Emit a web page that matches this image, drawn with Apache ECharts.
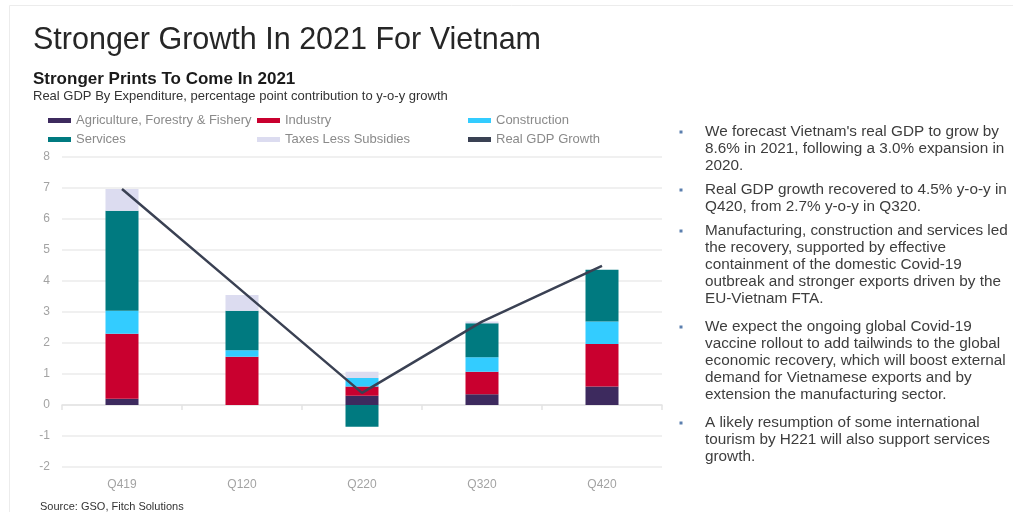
<!DOCTYPE html>
<html>
<head>
<meta charset="utf-8">
<script src="https://cdn.jsdelivr.net/npm/echarts@6/dist/echarts.min.js"></script>
<style>
html,body{margin:0;padding:0;background:#fff;}
#chart{width:1013px;height:512px;}
</style>
</head>
<body>
<div id="chart"></div>
<script>
const categories = ['Q419', 'Q120', 'Q220', 'Q320', 'Q420'];
const agriculture = [0.2, 0.0, 0.3, 0.35, 0.6];
const industry = [2.1, 1.56, 0.3, 0.72, 1.37];
const construction = [0.74, 0.21, 0.27, 0.47, 0.72];
const services = [3.23, 1.27, -0.7, 1.1, 1.67];
const taxes = [0.7, 0.51, 0.2, 0.05, 0.0];
const gdpGrowth = [6.97, 3.68, 0.39, 2.69, 4.49];
const yTicks = { min: -2, max: 8, interval: 1 };

const FONT = "'Liberation Sans', Arial, sans-serif";
const axisGray = '#a3a3a3';

const paragraphs = [
  { y: 132, text: "We forecast Vietnam's real GDP to grow by\n8.6% in 2021, following a 3.0% expansion in\n2020." },
  { y: 190, text: "Real GDP growth recovered to 4.5% y-o-y in\nQ420, from 2.7% y-o-y in Q320." },
  { y: 231, text: "Manufacturing, construction and services led\nthe recovery, supported by effective\ncontainment of the domestic Covid-19\noutbreak and stronger exports driven by the\nEU-Vietnam FTA." },
  { y: 327, text: "We expect the ongoing global Covid-19\nvaccine rollout to add tailwinds to the global\neconomic recovery, which will boost external\ndemand for Vietnamese exports and by\nextension the manufacturing sector." },
  { y: 423, text: "A likely resumption of some international\ntourism by H221 will also support services\ngrowth." }
];

const graphics = [
  { type: 'rect', shape: { x: 9.5, y: 5.5, width: 1010, height: 520 }, style: { fill: 'none', stroke: '#ececec', lineWidth: 1 }, silent: true },
  { type: 'text', style: { text: 'Stronger Growth In 2021 For Vietnam', x: 33, y: 41, font: '30.5px ' + FONT, fill: '#262626', textVerticalAlign: 'middle' } },
  { type: 'text', style: { text: 'Stronger Prints To Come In 2021', x: 33, y: 79, font: 'bold 17px ' + FONT, fill: '#1a1a1a', textVerticalAlign: 'middle' } },
  { type: 'text', style: { text: 'Real GDP By Expenditure, percentage point contribution to y-o-y growth', x: 33, y: 96, font: '13px ' + FONT, fill: '#333', textVerticalAlign: 'middle' } },
  { type: 'text', style: { text: 'Source: GSO, Fitch Solutions', x: 40, y: 507, font: '11px ' + FONT, fill: '#333', textVerticalAlign: 'middle' } }
];
paragraphs.forEach(p => {
  graphics.push({ type: 'rect', shape: { x: 679.5, y: p.y - 1.5, width: 3, height: 3 }, style: { fill: '#5b7fae' } });
  graphics.push({ type: 'text', style: { text: p.text, x: 705, y: p.y - 8.5, font: '15.3px ' + FONT, fill: '#3d3d3d', lineHeight: 17, textVerticalAlign: 'top' } });
});

const legendCommon = {
  orient: 'vertical', top: 114, itemGap: 6, itemWidth: 23, itemHeight: 5, icon: 'rect',
  textStyle: { color: '#8a8a8a', fontSize: 13, fontFamily: FONT }, padding: 0
};

const chart = echarts.init(document.getElementById('chart'), null, { renderer: 'canvas' });
const barBase = { type: 'bar', stack: 'total', barWidth: 33, xAxisIndex: 0 };
chart.setOption({
  animation: false,
  backgroundColor: '#fff',
  graphic: graphics,
  legend: [
    Object.assign({ left: 48, data: ['Agriculture, Forestry & Fishery', 'Services'] }, legendCommon),
    Object.assign({ left: 257, data: ['Industry', 'Taxes Less Subsidies'] }, legendCommon),
    Object.assign({ left: 468, data: ['Construction', 'Real GDP Growth'] }, legendCommon)
  ],
  grid: { left: 62, right: 351, top: 157, bottom: 45 },
  xAxis: [
    { type: 'category', data: categories, axisLine: { show: false, onZero: false }, axisTick: { show: false },
      axisLabel: { color: axisGray, fontSize: 12, fontFamily: FONT, margin: 12 } },
    { type: 'category', data: categories, position: 'bottom',
      axisLine: { show: true, onZero: true, lineStyle: { color: '#e3e3e3', width: 1.5 } },
      axisTick: { show: true, length: 5, lineStyle: { color: '#e3e3e3', width: 1.5 } },
      axisLabel: { show: false } }
  ],
  yAxis: { type: 'value', min: yTicks.min, max: yTicks.max, interval: yTicks.interval,
    axisLine: { show: false }, axisTick: { show: false },
    axisLabel: { color: axisGray, fontSize: 12, fontFamily: FONT, margin: 12 },
    splitLine: { lineStyle: { color: '#ebebeb', width: 1.5 } } },
  series: [
    Object.assign({ name: 'Agriculture, Forestry & Fishery', data: agriculture, itemStyle: { color: '#3d2a5e' } }, barBase),
    Object.assign({ name: 'Industry', data: industry, itemStyle: { color: '#c9002f' } }, barBase),
    Object.assign({ name: 'Construction', data: construction, itemStyle: { color: '#33ccff' } }, barBase),
    Object.assign({ name: 'Services', data: services, itemStyle: { color: '#007a80' } }, barBase),
    Object.assign({ name: 'Taxes Less Subsidies', data: taxes, itemStyle: { color: '#dcdcf0' } }, barBase),
    { name: 'Real GDP Growth', type: 'line', data: gdpGrowth, xAxisIndex: 0, symbol: 'none', z: 5,
      lineStyle: { color: '#3a4153', width: 2.5 }, itemStyle: { color: '#3a4153' } }
  ]
});
</script>
</body>
</html>
